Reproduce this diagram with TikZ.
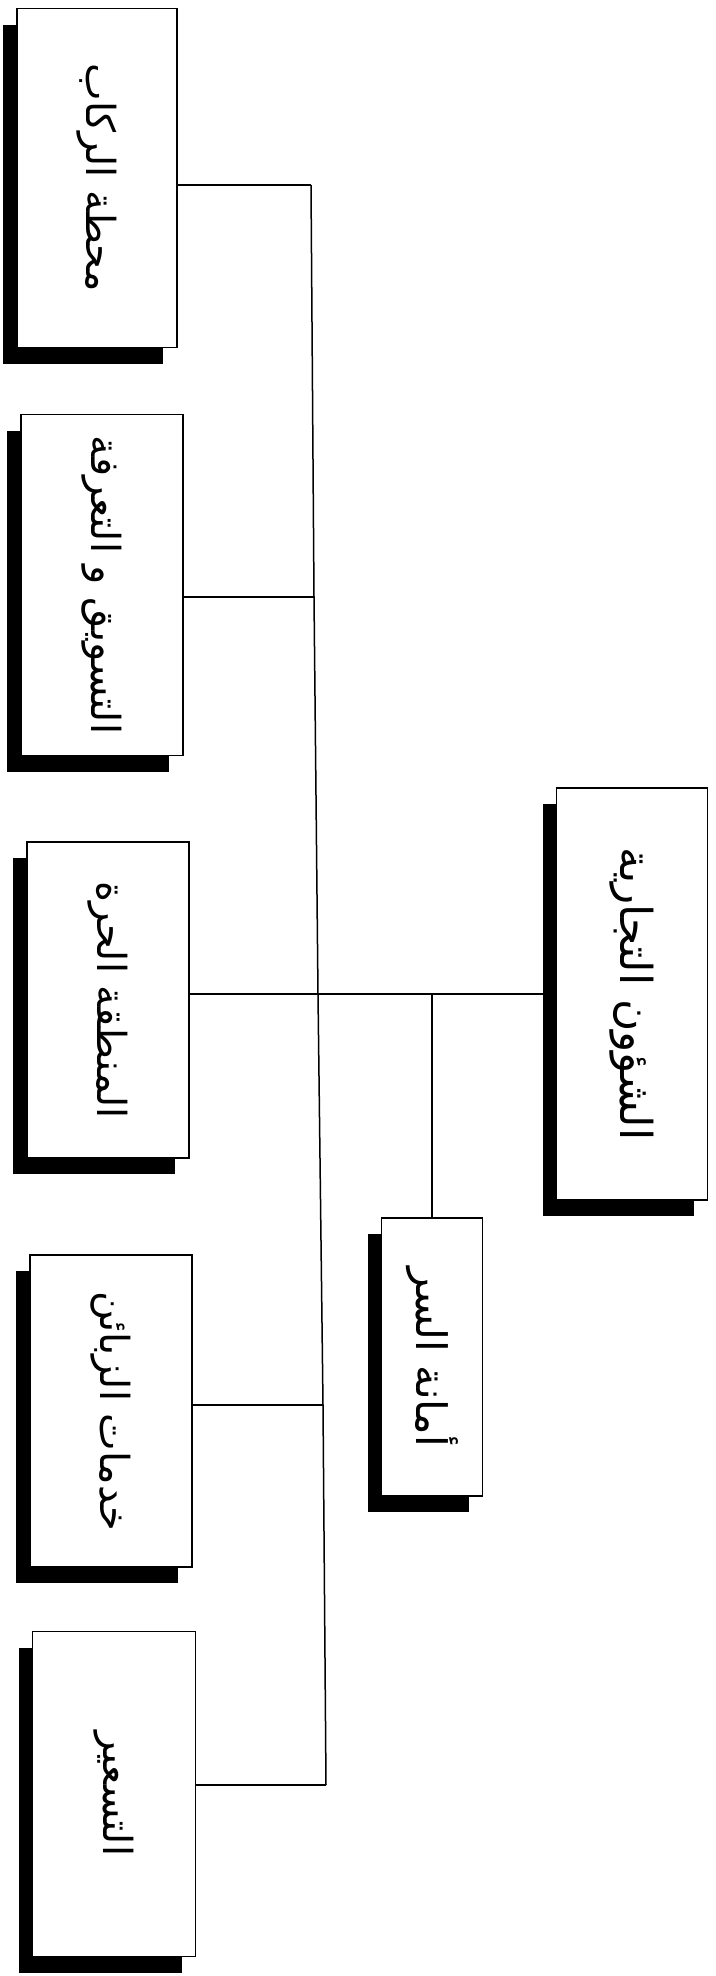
\documentclass[tikz,border=0pt]{standalone}
\usepackage{fontspec}
\usepackage{graphicx}
\usetikzlibrary{shadows}
\newfontfamily\arabicfont[Script=Arabic]{DejaVu Sans}
\TeXXeTstate=1
\newcommand{\vtext}[2][40]{\rotatebox{-90}{\arabicfont\fontsize{#1}{#1}\selectfont\beginR #2\endR}}

\begin{document}
\begin{tikzpicture}[
    x=1pt, y=-1pt,
    block/.style={rectangle, draw, line width=1.6pt, fill=white, inner sep=0pt,
        drop shadow={shadow xshift=-14pt, shadow yshift=-16pt, fill=black, opacity=1}},
    line/.style={draw, line width=1.5pt}
]
    \useasboundingbox (0,0) rectangle (715,1976);

    \node [block, minimum width=160pt, minimum height=339pt] (station) at (97,178) {\vtext{محطة الركاب}};
    \node [block, minimum width=162pt, minimum height=341pt] (marketing) at (102,585) {\vtext{التسويق و التعرفة}};
    \node [block, minimum width=162pt, minimum height=316pt] (freezone) at (108,1000) {\vtext{المنطقة الحرة}};
    \node [block, minimum width=162pt, minimum height=312pt] (customer) at (111,1411) {\vtext{خدمات الزبائن}};
    \node [block, minimum width=163pt, minimum height=325pt] (pricing) at (114,1794) {\vtext{التسعير}};
    \node [block, minimum width=151pt, minimum height=412pt] (commercial) at (632,994) {\vtext[44]{الشؤون التجارية}};
    \node [block, minimum width=101pt, minimum height=278pt] (secretary) at (432,1357) {\vtext[42]{أمانة السر}};

    % trunk
    \coordinate (t1) at (311,185);
    \coordinate (t2) at (314,597);
    \coordinate (t3) at (318,994);
    \coordinate (t4) at (323,1405);
    \coordinate (t5) at (326,1785);

    \draw [line] (t1) -- (t2) -- (t3) -- (t4) -- (t5);
    \draw [line] (station.east |- t1) -- (t1);
    \draw [line] (marketing.east |- t2) -- (t2);
    \draw [line] (freezone.east |- t3) -- (commercial.west |- t3);
    \draw [line] (customer.east |- t4) -- (t4);
    \draw [line] (pricing.east |- t5) -- (t5);
    \draw [line] (secretary.north) -- (secretary.north |- t3);
\end{tikzpicture}
\end{document}
